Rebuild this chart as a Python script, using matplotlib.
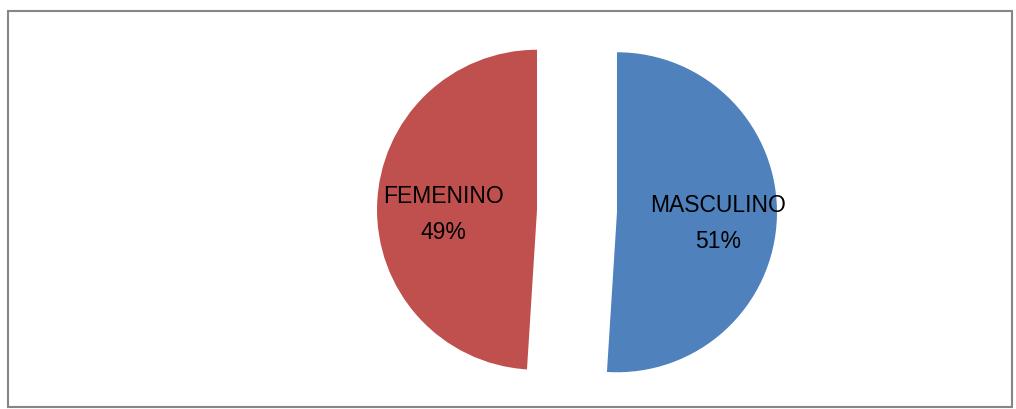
import matplotlib
matplotlib.use("Agg")
from matplotlib import pyplot as plt
from matplotlib.patches import Rectangle
from matplotlib import transforms

# data
categorias = ["MASCULINO", "FEMENINO"]
porcentajes = [51, 49]
colores = ["#4F81BD", "#C0504D"]

W, H = 1016, 410
fig = plt.figure(figsize=(W/100, H/100), dpi=100)
ax = fig.add_axes([0, 0, 1, 1])

# marco gris
fig.patches.append(Rectangle((8/W, 2/H), 1004/W, 396/H, transform=fig.transFigure,
                             fill=False, edgecolor="#868686", linewidth=1.5))

etiquetas = ["%s\n%d%%" % (c, p) for c, p in zip(categorias, porcentajes)]
# explode va en unidades de datos (pixeles aqui)
wedges, textos = ax.pie(porcentajes, labels=etiquetas, colors=colores,
                        startangle=90, counterclock=False,
                        center=(577, 198), radius=160, explode=[40, 40],
                        labeldistance=0.61, frame=True,
                        wedgeprops=dict(linewidth=0))
ax.set_xlim(0, W); ax.set_ylim(0, H)
ax.axis("off")
for t in textos:
    t.set_horizontalalignment("center")
    t.set_verticalalignment("center")
    t.set_multialignment("center")
    t.set_fontsize(16.5)
    t.set_family("Liberation Sans")
    t.set_linespacing(1.75)
    t.set_transform(transforms.offset_copy(ax.transData, fig=fig, x=4, y=-7, units="dots"))

fig.savefig("out.png", dpi=100)
